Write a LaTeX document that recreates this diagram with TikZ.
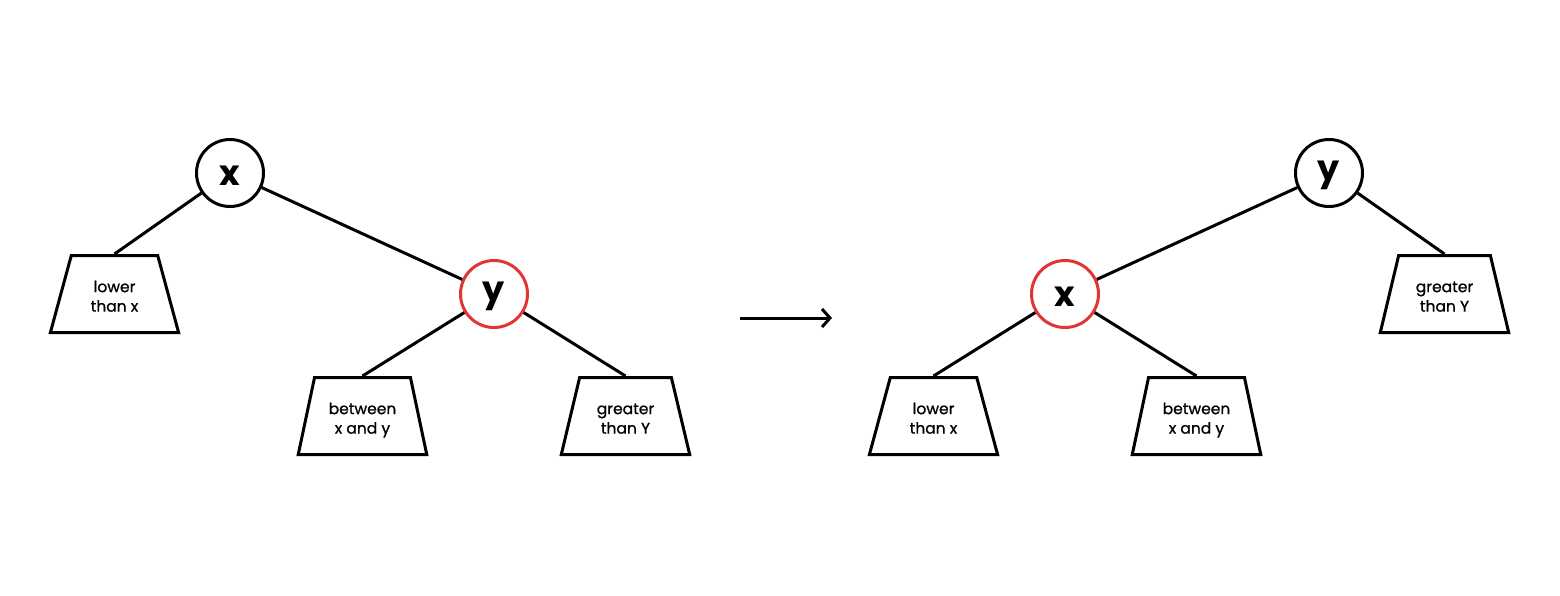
\documentclass[tikz,border=0pt]{standalone}
\usepackage{fontspec}
\setmainfont{Poppins}
\newfontfamily\medfont[FakeBold=0.9]{Poppins}
\usetikzlibrary{shapes.geometric,arrows.meta}
\definecolor{rotred}{RGB}{226,52,52}
\newcommand\twolines[2]{\raisebox{-4pt}[\height][\depth]{\begin{tabular}{@{}c@{}}#1\\#2\end{tabular}}}
\newcommand\bigletter[1]{\raisebox{-2.5pt}[\height][\depth]{#1}}
\tikzset{
  treenode/.style={circle,draw=black,line width=3pt,minimum size=67pt,inner sep=0pt,font=\fontsize{35}{35}\selectfont\bfseries},
  rednode/.style={treenode,draw=rotred},
  subtree/.style={trapezium,draw=black,line width=3pt,trapezium stretches=true,minimum width=129pt,minimum height=77pt,
    trapezium left angle=73.6,trapezium right angle=73.6,inner sep=0pt,
    font=\medfont\fontsize{15.5}{19.5}\selectfont},
  edge/.style={line width=3pt,black}
}
\begin{document}
\begin{tikzpicture}[x=1pt,y=-1pt]
\useasboundingbox (0,0) rectangle (1560,595);
% left tree
\node[treenode] (lx) at (230,173) {\bigletter{x}};
\node[rednode] (ly) at (494,294) {\bigletter{y}};
\node[subtree] (la) at (114.5,294) {\twolines{lower}{than x}};
\node[subtree] (lb) at (362.5,416) {\twolines{between}{x and y}};
\node[subtree] (lc) at (625.5,416) {\twolines{greater}{than Y}};
\draw[edge] (lx) -- (la.north);
\draw[edge] (lx) -- (ly);
\draw[edge] (ly) -- (lb.north);
\draw[edge] (ly) -- (lc.north);
% arrow
\coordinate (as) at (740,318);
\coordinate (ae) at (832,318);
\draw[edge,-{Straight Barb[length=8pt,width=18pt,line width=3pt]}] (as) -- (ae);
% right tree
\node[treenode] (ry) at (1329,173) {\bigletter{y}};
\node[rednode] (rx) at (1065,294) {\bigletter{x}};
\node[subtree] (rc) at (1444.5,294) {\twolines{greater}{than Y}};
\node[subtree] (ra) at (933.5,416) {\twolines{lower}{than x}};
\node[subtree] (rb) at (1196.5,416) {\twolines{between}{x and y}};
\draw[edge] (ry) -- (rc.north);
\draw[edge] (ry) -- (rx);
\draw[edge] (rx) -- (ra.north);
\draw[edge] (rx) -- (rb.north);
\end{tikzpicture}
\end{document}
